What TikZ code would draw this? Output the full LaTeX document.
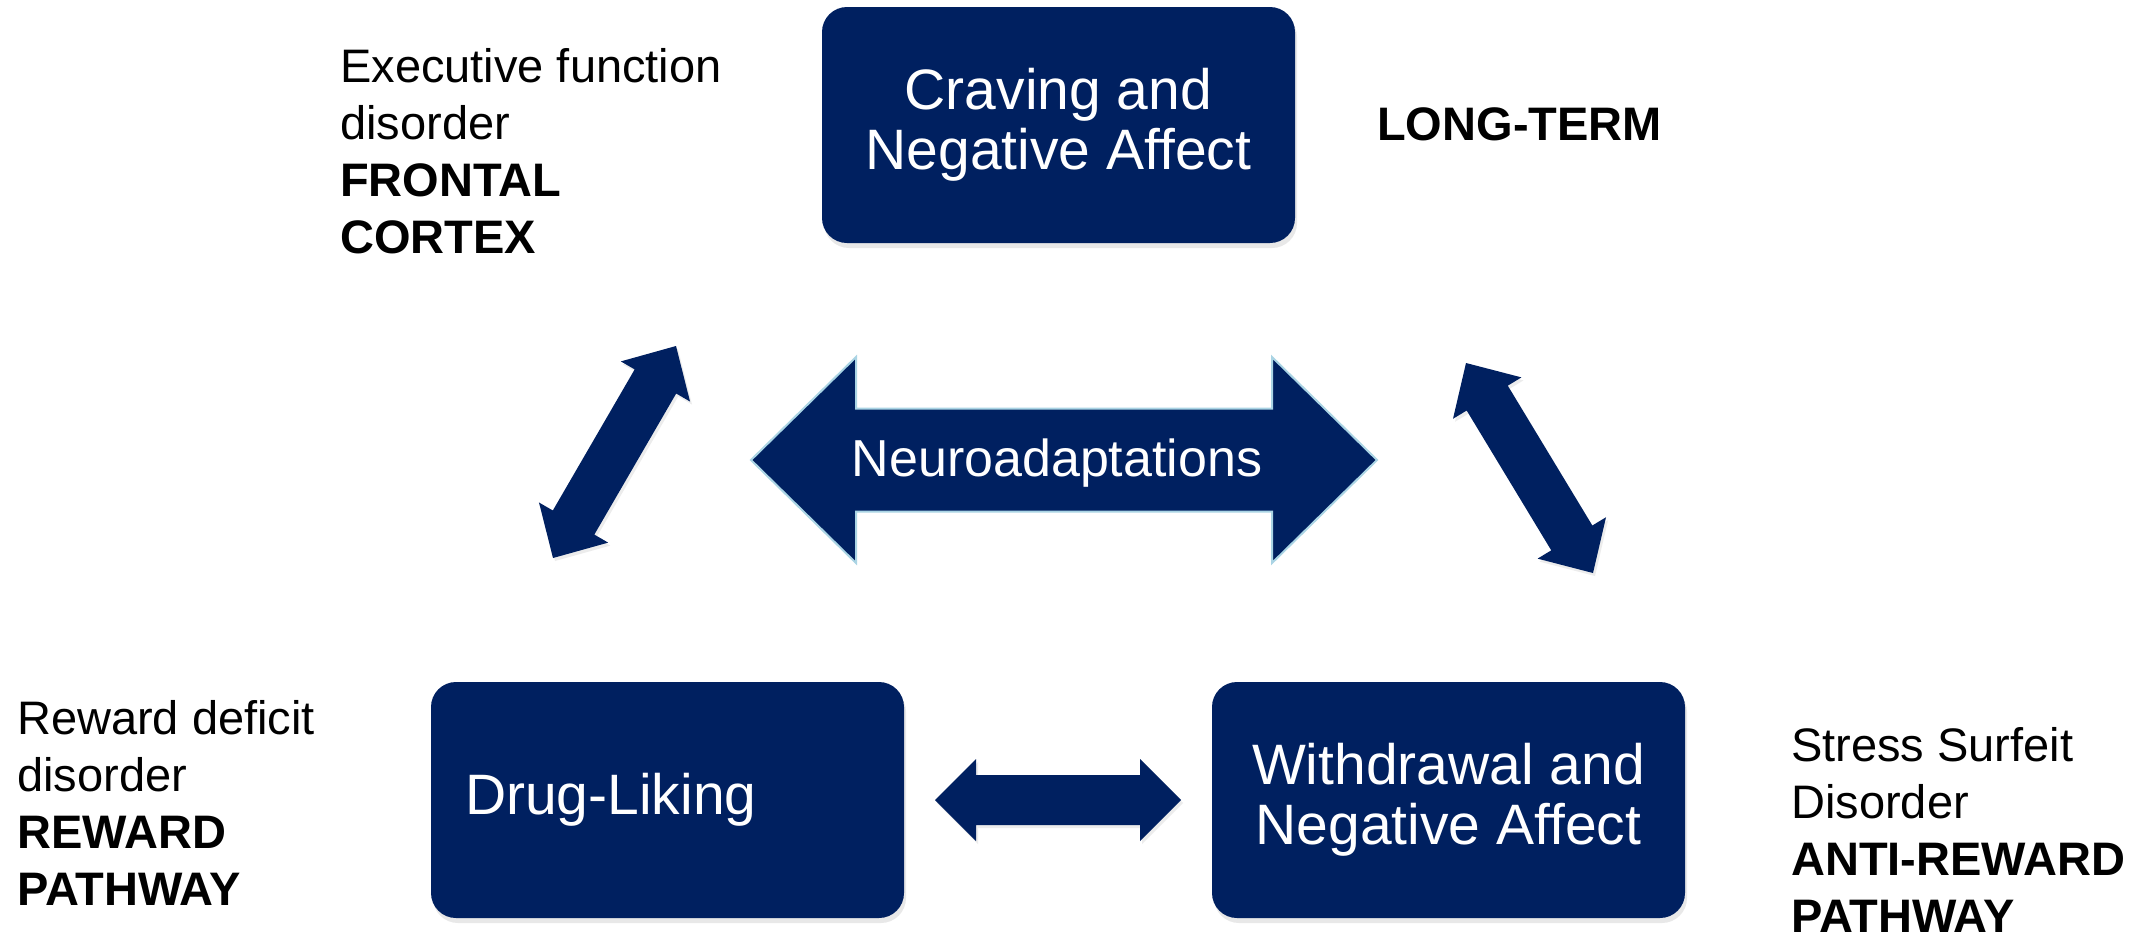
\documentclass[tikz,border=0pt]{standalone}
\usepackage{fontspec}
\setmainfont{Liberation Sans}
\usetikzlibrary{calc,shadows}
\definecolor{navy}{RGB}{0,32,96}
\definecolor{edgeblue}{RGB}{170,212,228}
\newcommand\dblarrow[6]{%
  \coordinate (#1ha) at ($(#1)!#3!(#2)$);
  \coordinate (#1hb) at ($(#2)!#3!(#1)$);
  \path[#6] (#1) -- ($(#1ha)!#4!90:(#2)$) -- ($(#1ha)!#5!90:(#2)$) -- ($(#1hb)!#5!90:(#2)$) -- ($(#1hb)!#4!90:(#2)$) -- (#2)
    -- ($(#1hb)!#4!-90:(#2)$) -- ($(#1hb)!#5!-90:(#2)$) -- ($(#1ha)!#5!-90:(#2)$) -- ($(#1ha)!#4!-90:(#2)$) -- cycle;}
\begin{document}
\begin{tikzpicture}[x=1pt,y=-1pt,
  box/.style={fill=navy, rounded corners=25pt, minimum width=473pt, minimum height=236pt,
    inner sep=0pt, text=white, font=\fontsize{57}{60}\selectfont, align=center,
    drop shadow={shadow xshift=2pt, shadow yshift=-5pt, opacity=0.18}},
  lbl/.style={anchor=base west, align=left, inner sep=0pt, font=\fontsize{47}{57}\selectfont},
  arrowfill/.style={fill=navy, drop shadow={shadow xshift=2pt, shadow yshift=-3pt, opacity=0.15}}]
\useasboundingbox[fill=white] (0,0) rectangle (2149,938);

% boxes
\node[box] (crave) at (1058.5,125) {Craving and\\Negative Affect};
\node[box, text width=405pt, align=left, inner xsep=34pt] (drug) at (667.5,800) {Drug-Liking};
\node[box] (withd) at (1448.5,800) {Withdrawal and\\Negative Affect};

% arrow tips
\coordinate (na) at (751,460);
\coordinate (nb) at (1377,460);
\coordinate (ba) at (935,800);
\coordinate (bb) at (1181,800);
\coordinate (la) at (553,558);
\coordinate (lb) at (676,346);
\coordinate (ra) at (1466,363);
\coordinate (rb) at (1593,573);

\dblarrow{na}{nb}{105pt}{103pt}{51.5pt}{fill=navy, draw=edgeblue, line width=2pt}
\dblarrow{ba}{bb}{41pt}{41pt}{25pt}{arrowfill}
\dblarrow{la}{lb}{41pt}{40pt}{24pt}{arrowfill}
\dblarrow{ra}{rb}{41pt}{40pt}{24pt}{arrowfill}

\node[text=white, inner sep=0pt, font=\fontsize{52}{60}\selectfont] (neuro) at (1057,463) {Neuroadaptations};

% labels (anchor: baseline of the last line)
\node[lbl] (exec) at (340,253) {Executive function\\disorder\\\textbf{FRONTAL}\\\textbf{CORTEX}};
\node[lbl] (lterm) at (1377,140) {\textbf{LONG-TERM}};
\node[lbl] (rew) at (17,905) {Reward deficit\\disorder\\\textbf{REWARD}\\\textbf{PATHWAY}};
\node[lbl] (stress) at (1791,932) {Stress Surfeit\\Disorder\\\textbf{ANTI-REWARD}\\\textbf{PATHWAY}};
\end{tikzpicture}
\end{document}
